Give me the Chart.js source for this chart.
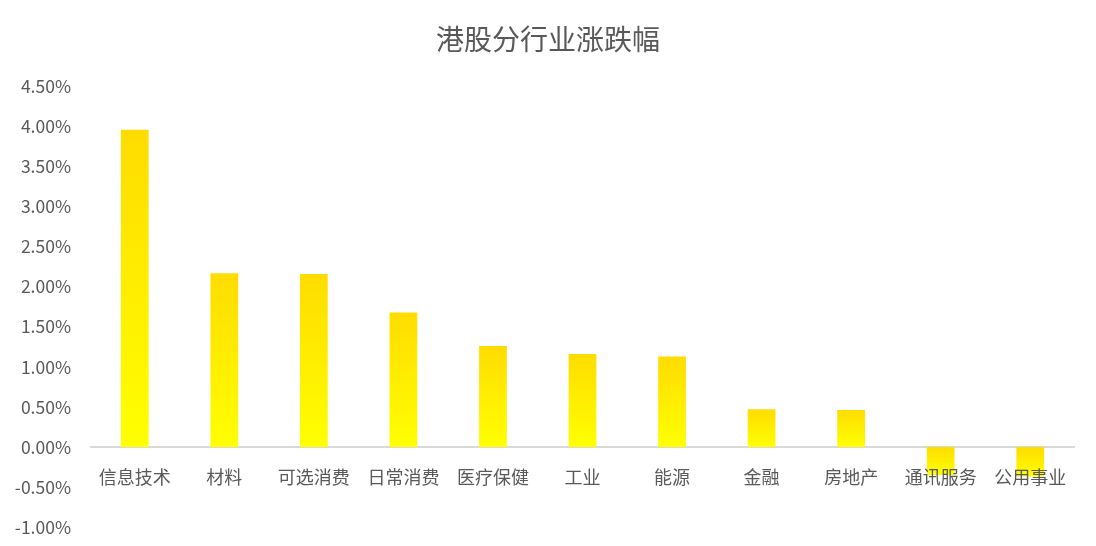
<!DOCTYPE html>
<html>
<head>
<meta charset="utf-8">
<script src="https://cdn.jsdelivr.net/npm/chart.js@4/dist/chart.umd.min.js"></script>
<style>
  html, body { margin: 0; padding: 0; background: #fff; }
  #wrap { width: 1096px; height: 546px; }
</style>
</head>
<body>
<div id="wrap"><canvas id="c"></canvas></div>
<script>
/* 港股分行业涨跌幅 — bar chart */

const sectors = ['信息技术','材料','可选消费','日常消费','医疗保健','工业','能源','金融','房地产','通讯服务','公用事业'];
const changes = [3.96, 2.17, 2.16, 1.68, 1.26, 1.16, 1.13, 0.47, 0.46, -0.35, -0.37];
const yTicks  = [-1.0, -0.5, 0.0, 0.5, 1.0, 1.5, 2.0, 2.5, 3.0, 3.5, 4.0, 4.5];

const FONT = '"Noto Sans CJK SC", "Microsoft YaHei", sans-serif';
const TEXT = '#595959';

// per-bar vertical gradient: deeper yellow at top, bright yellow at bottom
function barFill(ctx) {
  const chart = ctx.chart;
  const y = chart.scales.y;
  if (!y || !chart.chartArea) return '#ffe600';
  const v = changes[ctx.dataIndex];
  const top = y.getPixelForValue(Math.max(v, 0));
  const bot = y.getPixelForValue(Math.min(v, 0));
  if (!isFinite(top) || !isFinite(bot) || top === bot) return '#ffe600';
  const g = chart.ctx.createLinearGradient(0, top, 0, bot);
  g.addColorStop(0, '#ffdc00');
  g.addColorStop(1, '#ffff00');
  return g;
}

// zero line under the bars, category labels just below it painted over the bars
const zeroAxis = {
  id: 'zeroAxis',
  beforeDatasetsDraw(chart) {
    const { ctx, chartArea, scales: { y } } = chart;
    const y0 = y.getPixelForValue(0);
    ctx.save();
    ctx.strokeStyle = '#d9d9d9';
    ctx.lineWidth = 2;
    ctx.beginPath();
    ctx.moveTo(chartArea.left, y0);
    ctx.lineTo(chartArea.right, y0);
    ctx.stroke();
    ctx.restore();
  },
  afterDatasetsDraw(chart) {
    const { ctx, scales: { x, y } } = chart;
    const y0 = y.getPixelForValue(0);
    ctx.save();
    ctx.font = '18px ' + FONT;
    ctx.fillStyle = TEXT;
    ctx.textAlign = 'center';
    ctx.textBaseline = 'middle';
    sectors.forEach((s, i) => ctx.fillText(s, x.getPixelForValue(i), y0 + 30));
    ctx.restore();
  }
};

new Chart(document.getElementById('c'), {
  type: 'bar',
  data: {
    labels: sectors,
    datasets: [{
      data: changes,
      backgroundColor: barFill,
      borderWidth: 0,
      categoryPercentage: 1,
      barPercentage: 0.31
    }]
  },
  options: {
    responsive: true,
    maintainAspectRatio: false,
    animation: false,
    layout: { padding: { left: 0, right: 0, top: 0, bottom: 19 } },
    plugins: {
      legend: { display: false },
      tooltip: { enabled: false },
      title: {
        display: true,
        text: '港股分行业涨跌幅',
        color: TEXT,
        font: { family: FONT, size: 28, weight: 'normal' },
        padding: { top: 23, bottom: 30 }
      }
    },
    scales: {
      x: { display: false },
      y: {
        min: yTicks[0],
        max: yTicks[yTicks.length - 1],
        afterBuildTicks: s => { s.ticks = yTicks.map(v => ({ value: v })); },
        afterFit: s => { s.width = 90; s.paddingTop = 0; s.paddingBottom = 0; },
        grid: { display: false, drawTicks: false },
        border: { display: false },
        ticks: {
          color: TEXT,
          font: { family: FONT, size: 17.5 },
          padding: 19,
          callback: v => v.toFixed(2) + '%'
        }
      },
      // empty right-hand spacer so the plot and title sit as in the original
      yRight: {
        position: 'right',
        grid: { display: false, drawTicks: false },
        border: { display: false },
        ticks: { display: false },
        afterFit: s => { s.width = 21; s.paddingTop = 0; s.paddingBottom = 0; }
      }
    }
  },
  plugins: [zeroAxis]
});
</script>
</body>
</html>
